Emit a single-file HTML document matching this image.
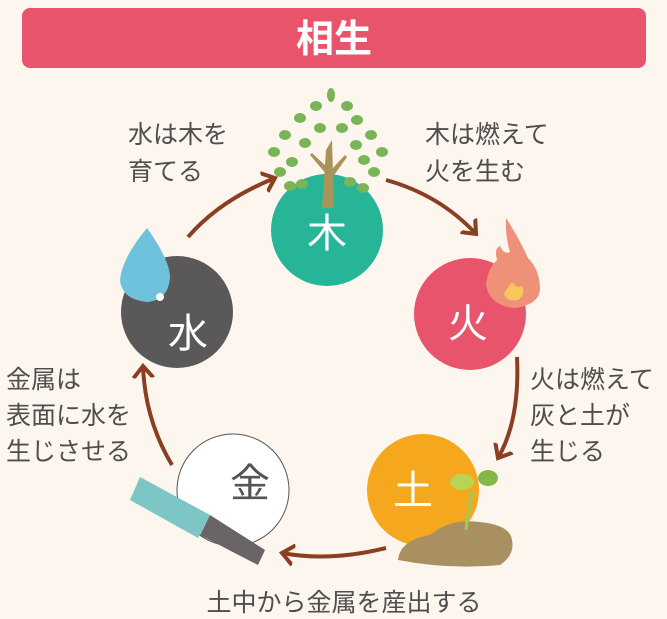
<!DOCTYPE html>
<html><head><meta charset="utf-8"><style>
html,body{margin:0;padding:0;background:#fdf6ee;}
svg{display:block;font-family:"Liberation Sans","Noto Sans CJK JP",sans-serif;}
</style></head><body>
<svg width="667" height="619" viewBox="0 0 667 619" xmlns="http://www.w3.org/2000/svg">
<rect width="667" height="619" fill="#fdf6ee"/>
<rect x="22" y="8" width="624" height="60" rx="8" fill="#e8546c"/>
<text x="334" y="52" font-size="38" font-weight="bold" fill="#fff" text-anchor="middle">相生</text>
<defs><marker id="a" markerWidth="6" markerHeight="6" refX="3" refY="3" orient="auto" markerUnits="strokeWidth"><path d="M0,0.5 L3,3 L0,5.5" fill="none" stroke="#8b3f22" stroke-width="1"/></marker></defs>
<g fill="none" stroke="#8b3f22" stroke-width="4" marker-end="url(#a)">
<path d="M188,237 Q220,200 275,178"/>
<path d="M386,180 Q440,195 476,234"/>
<path d="M517,357 Q520,420 498,458"/>
<path d="M386,548 Q330,562 282,553"/>
<path d="M172,465 Q145,420 143,366"/>
</g>
<circle cx="327" cy="230" r="56" fill="#27b597"/>
<circle cx="470" cy="314" r="56" fill="#e8546c"/>
<circle cx="423" cy="490" r="56" fill="#f5a71d"/>
<circle cx="233" cy="490" r="56" fill="#fff" stroke="#555" stroke-width="1"/>
<circle cx="177" cy="312" r="56" fill="#5a5859"/>
<g fill="#79b558">
<ellipse cx="331" cy="95" rx="4" ry="7"/><ellipse cx="316" cy="106" rx="6" ry="5"/><ellipse cx="347" cy="106" rx="6" ry="5"/>
<ellipse cx="300" cy="118" rx="6" ry="5"/><ellipse cx="357" cy="120" rx="6" ry="5"/><ellipse cx="320" cy="128" rx="6" ry="5"/><ellipse cx="342" cy="128" rx="6" ry="5"/>
<ellipse cx="285" cy="135" rx="6" ry="5"/><ellipse cx="371" cy="135" rx="6" ry="5"/><ellipse cx="305" cy="143" rx="6" ry="5"/><ellipse cx="356" cy="145" rx="6" ry="5"/>
<ellipse cx="274" cy="152" rx="6" ry="5"/><ellipse cx="382" cy="152" rx="6" ry="5"/><ellipse cx="292" cy="162" rx="6" ry="5"/><ellipse cx="364" cy="160" rx="6" ry="5"/>
<ellipse cx="280" cy="172" rx="6" ry="5"/><ellipse cx="374" cy="172" rx="6" ry="5"/><ellipse cx="302" cy="184" rx="6" ry="5"/><ellipse cx="350" cy="182" rx="6" ry="5"/>
<ellipse cx="290" cy="186" rx="6" ry="5"/><ellipse cx="363" cy="188" rx="6" ry="5"/>
</g>
<path d="M322,208 L326,150 L332,140 L334,208 Z" fill="#a8935a"/>
<path d="M327,175 L310,155 L312,153 L328,168 Z M331,170 L345,155 L347,157 L332,178 Z" fill="#a8935a"/>
<text x="327" y="247" font-size="40" fill="#fff" text-anchor="middle">木</text>
<path d="M506,218 Q520,240 528,258 Q540,270 540,290 Q538,305 515,308 Q490,306 486,285 Q488,268 497,260 Q494,248 500,246 Q504,255 510,252 Q505,235 506,218 Z" fill="#ef9178"/>
<path d="M512,282 Q518,290 522,285 Q526,295 518,300 Q506,302 504,294 Q507,288 512,282 Z" fill="#f8c65a"/>
<text x="468" y="337" font-size="40" fill="#fff" text-anchor="middle">火</text>
<path d="M147,228 Q170,260 170,278 Q168,300 148,302 Q122,300 120,280 Q122,258 147,228 Z" fill="#6fc2dc"/>
<circle cx="160" cy="297" r="4" fill="#fff"/>
<text x="188" y="347" font-size="40" fill="#fff" text-anchor="middle">水</text>
<path d="M398,560 Q400,540 430,535 Q450,518 480,522 Q510,525 512,540 Q515,555 500,565 Q450,570 398,560 Z" fill="#a89060"/>
<path d="M466,530 Q468,510 472,492" stroke="#9ccb5a" stroke-width="3" fill="none"/>
<ellipse cx="462" cy="482" rx="12" ry="8" fill="#b9d354"/><ellipse cx="488" cy="478" rx="10" ry="8" fill="#82b94a"/>
<text x="413" y="504" font-size="40" fill="#fff" text-anchor="middle">土</text>
<path d="M140,477 L210,515 L198,538 L130,500 Z" fill="#7cc6c6"/>
<path d="M210,515 L265,550 L258,565 L200,535 Z" fill="#6a6466"/>
<text x="250" y="497" font-size="40" fill="#555" text-anchor="middle">金</text>
<g font-size="25" fill="#4e4e4e">
<text x="128" y="143">水は木を</text><text x="128" y="180">育てる</text>
<text x="425" y="143">木は燃えて</text><text x="425" y="180">火を生む</text>
<text x="530" y="388">火は燃えて</text><text x="530" y="424">灰と土が</text><text x="530" y="460">生じる</text>
<text x="6" y="388">金属は</text><text x="6" y="424">表面に水を</text><text x="6" y="460">生じさせる</text>
<text x="344" y="611" text-anchor="middle">土中から金属を産出する</text>
</g>
</svg>
</body></html>
